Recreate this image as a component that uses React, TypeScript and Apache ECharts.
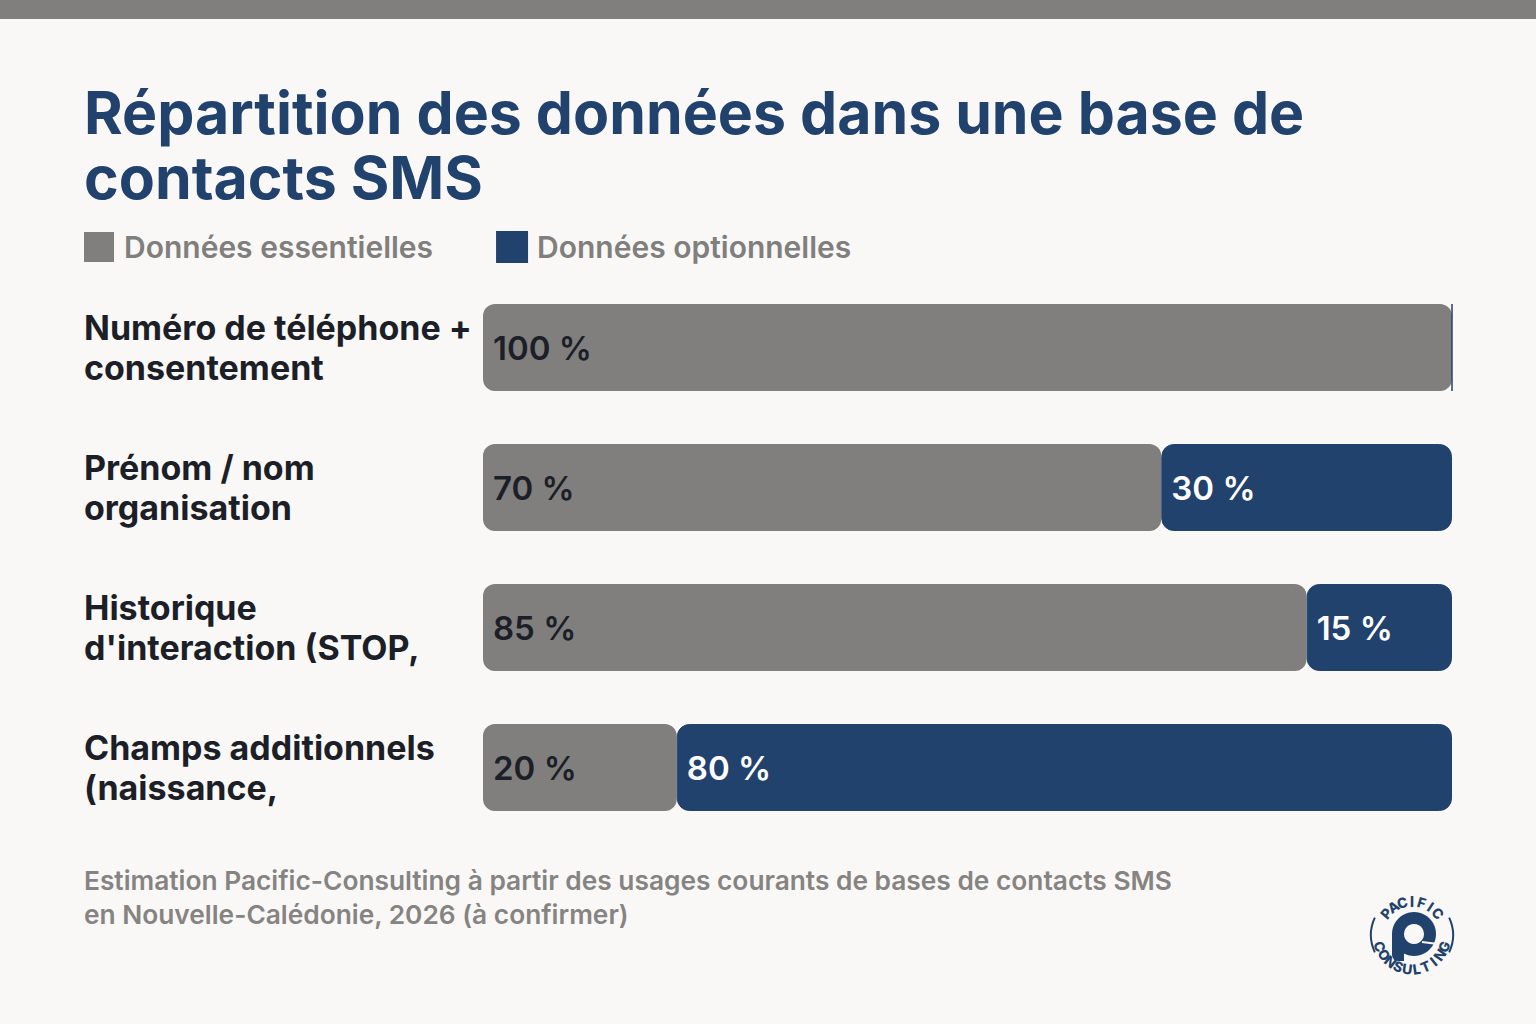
import React, { useEffect, useRef } from "react";
import * as echarts from "echarts";

// Category labels (as shown, wrapped on two lines)
const categories = [
  "Numéro de téléphone +\nconsentement",
  "Prénom / nom\norganisation",
  "Historique\nd'interaction (STOP,",
  "Champs additionnels\n(naissance,",
];
// Share of each field, in %
const essentialValues = [100, 70, 85, 20];
const optionalValues = [0, 30, 15, 80];
const seriesNames = ["Données essentielles", "Données optionnelles"];

const titleText = "Répartition des données dans une base de\ncontacts SMS";
const footnoteText =
  "Estimation Pacific-Consulting à partir des usages courants de bases de contacts SMS\nen Nouvelle-Calédonie, 2026 (à confirmer)";

const GREY = "#807f7d";
const NAVY = "#22426e";
const INK = "#1c1f27";
const BG = "#f9f8f6";
const FONT = "Inter, 'Noto Sans', sans-serif";

// Letters of the circular logo, laid out along arcs
function arcLetters(
  text: string,
  cx: number,
  cy: number,
  r: number,
  startDeg: number,
  endDeg: number,
  top: boolean
) {
  const n = text.length;
  const out: any[] = [];
  for (let i = 0; i < n; i++) {
    const deg = startDeg + ((endDeg - startDeg) * i) / (n - 1);
    const t = (deg * Math.PI) / 180;
    const rot = top ? -(deg + 90) : 90 - deg;
    out.push({
      type: "text",
      x: cx + r * Math.cos(t),
      y: cy + r * Math.sin(t),
      rotation: (rot * Math.PI) / 180,
      style: {
        text: text[i],
        fill: NAVY,
        font: `800 14px ${FONT}`,
        align: "center",
        verticalAlign: "middle",
      },
    });
  }
  return out;
}

export default function App() {
  const ref = useRef<HTMLDivElement>(null);

  useEffect(() => {
    const chart = echarts.init(ref.current!, null, { renderer: "svg" });
    const cx = 1412;
    const cy = 935;

    chart.setOption({
      animation: false,
      backgroundColor: BG,
      textStyle: { fontFamily: FONT },
      title: {
        text: titleText,
        left: 84,
        top: 80,
        padding: 0,
        textStyle: {
          fontFamily: FONT,
          fontSize: 59,
          fontWeight: 700,
          color: NAVY,
          lineHeight: 65,
        },
      },
      legend: {
        left: 84,
        top: 231,
        padding: 0,
        icon: "rect",
        itemWidth: 30,
        itemHeight: 30,
        itemGap: 63,
        textStyle: {
          fontFamily: FONT,
          fontSize: 30,
          fontWeight: 600,
          color: GREY,
          padding: [0, 0, 0, 5],
        },
        data: seriesNames,
      },
      grid: { left: 483, right: 84, top: 277.5, height: 560 },
      xAxis: { type: "value", min: 0, max: 100, show: false },
      yAxis: {
        type: "category",
        data: categories,
        inverse: true,
        axisLine: { show: false },
        axisTick: { show: false },
        splitLine: { show: false },
        axisLabel: {
          align: "left",
          margin: 399,
          fontFamily: FONT,
          fontSize: 34,
          fontWeight: 700,
          color: INK,
          lineHeight: 40,
        },
      },
      series: [
        {
          name: seriesNames[0],
          type: "bar",
          stack: "share",
          barWidth: 87,
          data: essentialValues,
          itemStyle: { color: GREY, borderRadius: 12 },
          label: {
            show: true,
            position: "insideLeft",
            distance: 10,
            formatter: (p: any) => (p.value > 0 ? `${p.value} %` : ""),
            fontFamily: FONT,
            fontSize: 33,
            fontWeight: 600,
            color: INK,
          },
        },
        {
          name: seriesNames[1],
          type: "bar",
          stack: "share",
          barWidth: 87,
          data: optionalValues,
          itemStyle: {
            color: NAVY,
            borderRadius: 12,
            borderColor: NAVY,
            borderWidth: 1,
          },
          label: {
            show: true,
            position: "insideLeft",
            distance: 10,
            formatter: (p: any) => (p.value > 0 ? `${p.value} %` : ""),
            fontFamily: FONT,
            fontSize: 33,
            fontWeight: 600,
            color: "#ffffff",
          },
        },
      ],
      graphic: [
        {
          type: "rect",
          left: 0,
          top: 0,
          shape: { width: 1536, height: 19 },
          style: { fill: GREY },
        },
        {
          type: "text",
          left: 84,
          top: 863,
          style: {
            text: footnoteText,
            fill: "#858482",
            font: `600 26.3px ${FONT}`,
            lineHeight: 34,
          },
        },
        // Logo: side rings
        {
          type: "arc",
          shape: { cx, cy, r: 41, startAngle: (155 * Math.PI) / 180, endAngle: (205 * Math.PI) / 180 },
          style: { stroke: NAVY, lineWidth: 2, fill: "none" },
        },
        {
          type: "arc",
          shape: { cx, cy, r: 41, startAngle: (-25 * Math.PI) / 180, endAngle: (25 * Math.PI) / 180 },
          style: { stroke: NAVY, lineWidth: 2, fill: "none" },
        },
        // Logo: "p" bowl and stem
        {
          type: "ring",
          shape: { cx: 1414, cy: 934, r: 22, r0: 10 },
          style: { fill: NAVY },
        },
        {
          type: "rect",
          shape: { x: 1392, y: 934, width: 12, height: 27, r: [0, 0, 0, 6] },
          style: { fill: NAVY },
        },
        {
          type: "line",
          shape: { x1: 1422, y1: 942, x2: 1438, y2: 944 },
          style: { stroke: BG, lineWidth: 2 },
        },
        ...arcLetters("PACIFIC", cx, cy, 34, -140, -40, true),
        ...arcLetters("CONSULTING", cx, cy, 34, 160, 20, false),
      ],
    });

    return () => chart.dispose();
  }, []);

  return (
    <div
      ref={ref}
      style={{ position: "fixed", left: 0, top: 0, width: 1536, height: 1024 }}
    />
  );
}
